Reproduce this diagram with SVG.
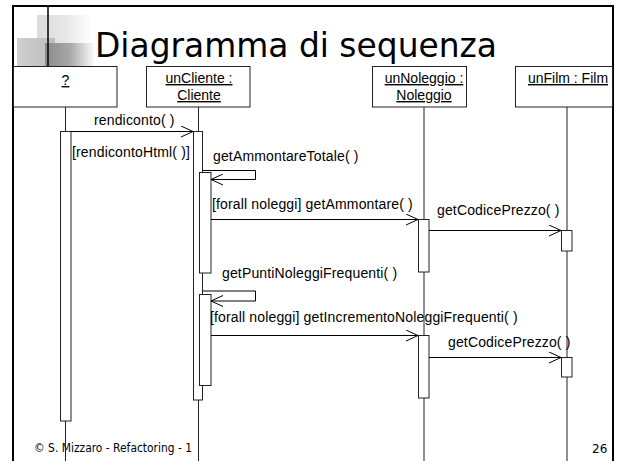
<svg xmlns="http://www.w3.org/2000/svg" width="623" height="461" viewBox="0 0 623 461">
<defs>
<marker id="open" markerUnits="userSpaceOnUse" markerWidth="14" markerHeight="12" refX="12.5" refY="6" orient="auto">
<path d="M0.5,0.5 L12.5,6 L0.5,11.5" fill="none" stroke="#000" stroke-width="1"/>
</marker>
<linearGradient id="gLight" x1="0" y1="0" x2="1" y2="0">
<stop offset="0" stop-color="#dcdcdc"/><stop offset="0.5" stop-color="#e6e6e6"/><stop offset="1" stop-color="#ffffff"/>
</linearGradient>
<linearGradient id="gMid" x1="0" y1="0" x2="1" y2="0">
<stop offset="0" stop-color="#cfcfcf"/><stop offset="1" stop-color="#bdbdbd"/>
</linearGradient>
<linearGradient id="gDark" x1="0" y1="0" x2="1" y2="0">
<stop offset="0" stop-color="#8a8a8a"/><stop offset="0.5" stop-color="#a8a8a8"/><stop offset="1" stop-color="#ffffff"/>
</linearGradient>
<linearGradient id="gLine" x1="0" y1="0" x2="1" y2="0">
<stop offset="0" stop-color="#000"/><stop offset="0.6" stop-color="#777"/><stop offset="1" stop-color="#fff"/>
</linearGradient>
</defs>
<style>
.lbl{font-family:"Liberation Sans",Arial,sans-serif;font-size:14px;fill:#000;letter-spacing:0.15px}
.hdr{font-family:"Liberation Sans",Arial,sans-serif;font-size:14px;fill:#000;text-anchor:middle;text-decoration:underline}
.box{fill:#fff;stroke:#222;stroke-width:1}
.act{fill:#fff;stroke:#222;stroke-width:1}
.life{stroke:#222;stroke-width:1;fill:none}
.msg{stroke:#000;stroke-width:1;fill:none;marker-end:url(#open)}
.foot{font-family:"DejaVu Sans",Tahoma,sans-serif;font-size:12px;fill:#000}
</style>
<rect width="623" height="461" fill="#fff"/>
<rect x="37" y="15" width="55" height="31" fill="url(#gLight)"/>
<rect x="17" y="38" width="38" height="28" fill="url(#gMid)"/>
<rect x="45" y="43" width="50" height="23" fill="url(#gDark)"/>
<line x1="41" y1="21" x2="460" y2="21" stroke="url(#gLine)" stroke-width="1.5"/>
<line x1="48" y1="6" x2="48" y2="66" stroke="#000" stroke-width="1.5"/>
<rect x="13" y="6" width="600" height="470" fill="none" stroke="#000" stroke-width="2"/>
<text x="95" y="57" font-family="DejaVu Sans,Tahoma,sans-serif" font-size="34" textLength="402" lengthAdjust="spacingAndGlyphs" fill="#000">Diagramma di sequenza</text>
<text class="foot" x="34" y="452" textLength="158" lengthAdjust="spacingAndGlyphs">© S. Mizzaro - Refactoring - 1</text>
<text class="foot" x="592" y="453">26</text>

<g id="node-anon">
<rect class="box" x="13.5" y="66.5" width="103.5" height="40.5"/>
<text class="hdr" x="65.5" y="85">?</text>
<line class="life" x1="65.5" y1="107" x2="65.5" y2="461"/>
<rect class="act" x="60.5" y="131.5" width="10.5" height="289.5"/>
</g>
<g id="node-unCliente">
<rect class="box" x="146.5" y="66.5" width="103.5" height="40.5"/>
<text class="hdr" x="199" y="83">unCliente :</text>
<text class="hdr" x="199" y="100">Cliente</text>
<line class="life" x1="198.5" y1="107" x2="198.5" y2="461"/>
<rect class="act" x="193.5" y="131.5" width="9" height="268.5"/>
<rect class="act" x="199.5" y="172.5" width="11.5" height="100.5"/>
<rect class="act" x="199.5" y="294.5" width="11.5" height="91"/>
</g>
<g id="node-unNoleggio">
<rect class="box" x="372.5" y="66.5" width="94" height="40.5"/>
<text class="hdr" x="424" y="83">unNoleggio :</text>
<text class="hdr" x="424" y="100">Noleggio</text>
<line class="life" x1="424" y1="107" x2="424" y2="461"/>
<rect class="act" x="418.5" y="219.5" width="10.5" height="52.5"/>
<rect class="act" x="418.5" y="335.5" width="10.5" height="62.5"/>
</g>
<g id="node-unFilm">
<rect class="box" x="515.5" y="66.5" width="97" height="40.5"/>
<text class="hdr" x="568" y="83">unFilm : Film</text>
<line class="life" x1="567" y1="107" x2="567" y2="461"/>
<rect class="act" x="561.5" y="230.5" width="10.5" height="20.5"/>
<rect class="act" x="561.5" y="357.5" width="10.5" height="19.5"/>
</g>

<g id="connectors">
<path class="msg" d="M71,131.5 H193"/>
<path class="msg" d="M202.5,170.5 H255.5 V179.5 H211"/>
<path class="msg" d="M211,219.5 H418"/>
<path class="msg" d="M429,230.5 H561"/>
<path class="msg" d="M202.5,291 H255.5 V301 H211"/>
<path class="msg" d="M211,335.5 H418"/>
<path class="msg" d="M429,357.5 H561"/>
</g>
<g id="labels">
<text class="lbl" x="94" y="125">rendiconto( )</text>
<text class="lbl" x="72" y="157">[rendicontoHtml( )]</text>
<text class="lbl" x="213" y="161">getAmmontareTotale( )</text>
<text class="lbl" x="212" y="209">[forall noleggi] getAmmontare( )</text>
<text class="lbl" x="437" y="215">getCodicePrezzo( )</text>
<text class="lbl" x="222" y="278">getPuntiNoleggiFrequenti( )</text>
<text class="lbl" x="210" y="322">[forall noleggi] getIncrementoNoleggiFrequenti( )</text>
<text class="lbl" x="448" y="347">getCodicePrezzo( )</text>
</g>
</svg>
